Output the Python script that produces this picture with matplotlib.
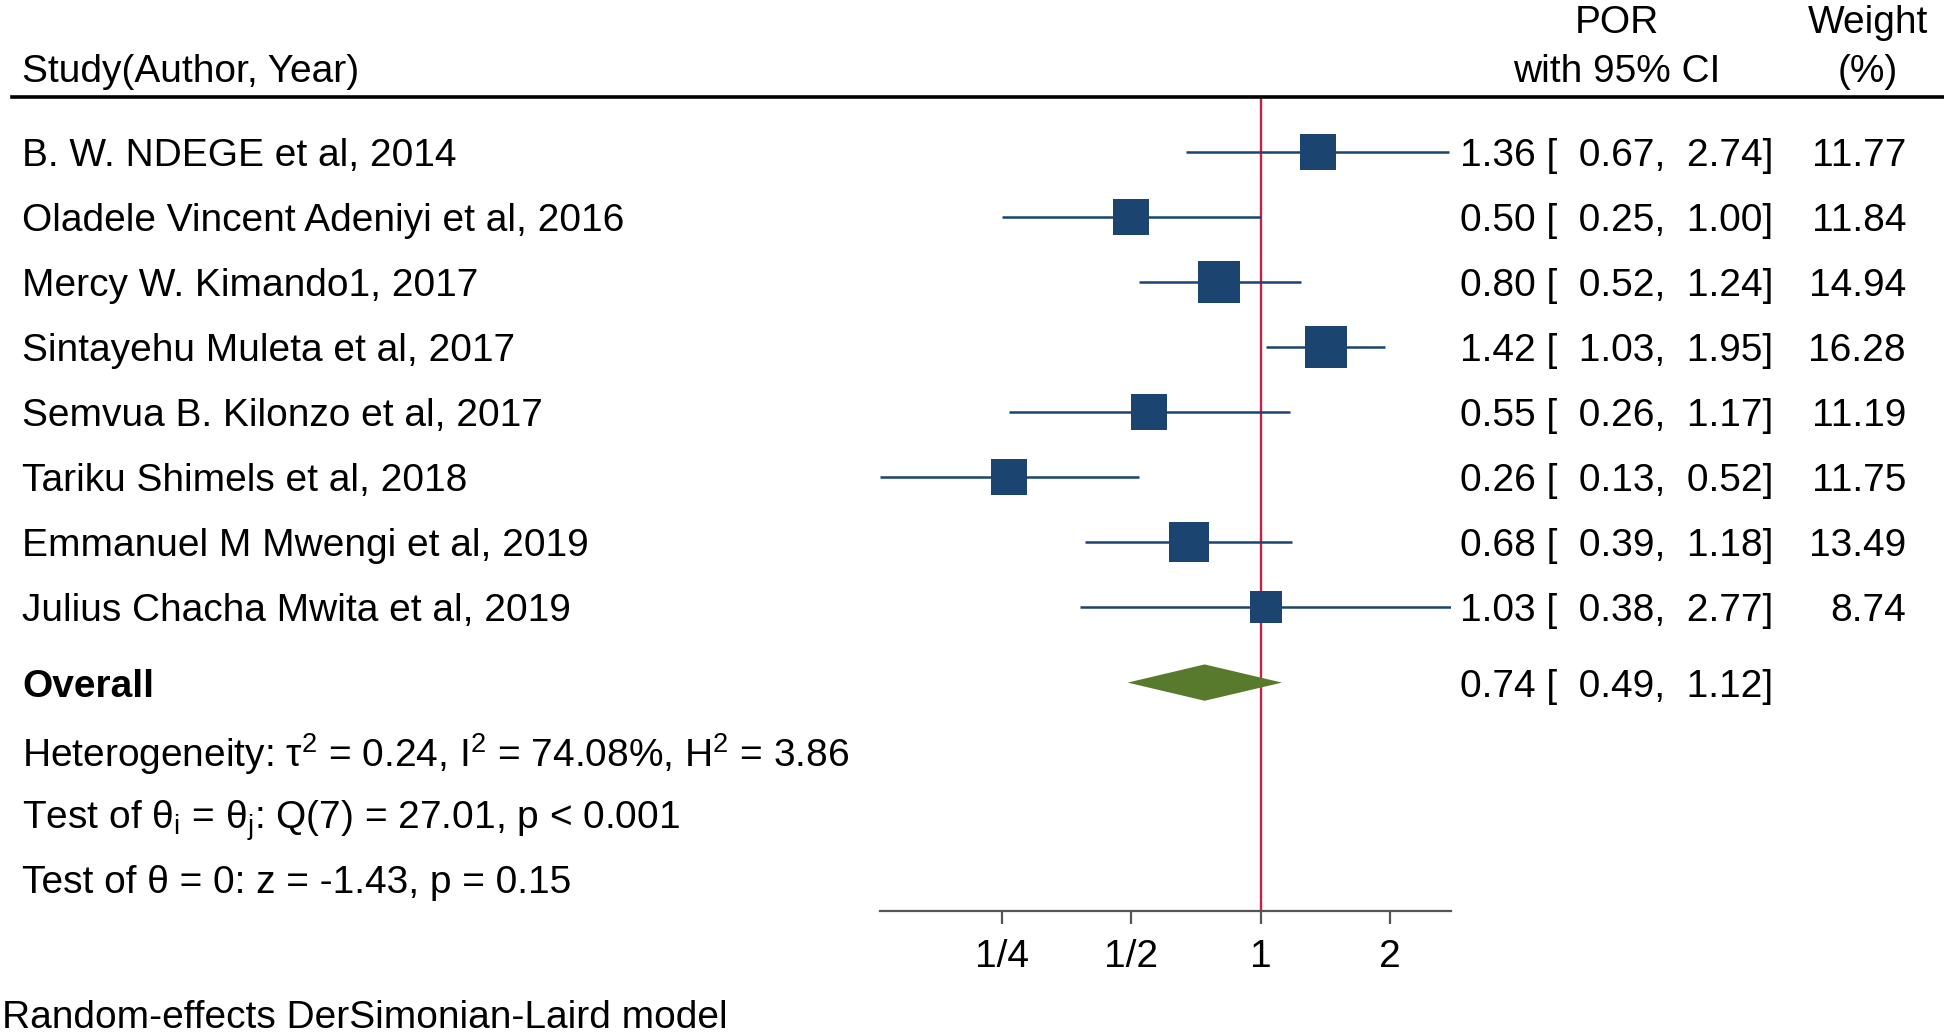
import matplotlib
matplotlib.use("Agg")
import matplotlib.pyplot as plt
import matplotlib.transforms as mtransforms
import numpy as np

plt.rcParams['font.family'] = ['Liberation Sans', 'DejaVu Sans']
plt.rcParams['mathtext.fontset'] = 'custom'
plt.rcParams['mathtext.rm'] = 'Liberation Sans'
plt.rcParams['mathtext.it'] = 'Liberation Sans:italic'

studies = ["B. W. NDEGE et al, 2014",
           "Oladele Vincent Adeniyi et al, 2016",
           "Mercy W. Kimando1, 2017",
           "Sintayehu Muleta et al, 2017",
           "Semvua B. Kilonzo et al, 2017",
           "Tariku Shimels et al, 2018",
           "Emmanuel M Mwengi et al, 2019",
           "Julius Chacha Mwita et al, 2019"]
por = [1.36, 0.50, 0.80, 1.42, 0.55, 0.26, 0.68, 1.03]
ci_low = [0.67, 0.25, 0.52, 1.03, 0.26, 0.13, 0.39, 0.38]
ci_high = [2.74, 1.00, 1.24, 1.95, 1.17, 0.52, 1.18, 2.77]
weights = [11.77, 11.84, 14.94, 16.28, 11.19, 11.75, 13.49, 8.74]
overall = [0.74, 0.49, 1.12]
tick_vals = [0.25, 0.5, 1, 2]
tick_labels = ["1/4", "1/2", "1", "2"]

W, H = 1944, 1033
fig = plt.figure(figsize=(W / 100, H / 100), dpi=100)

ax_left, ax_right = 880 / W, 1451 / W
ax_top, ax_bot = 1 - 97 / H, 1 - 911 / H
ax = fig.add_axes([ax_left, ax_bot, ax_right - ax_left, ax_top - ax_bot])
ax.set_xscale('log', base=2)
ax.set_xlim(min(ci_low), max(ci_high))
ax.set_ylim(12.69, 0.145)
ax.patch.set_visible(False)
for s in ['top', 'left', 'right']:
    ax.spines[s].set_visible(False)
ax.spines['bottom'].set_color('#555555')
ax.spines['bottom'].set_linewidth(1.6)
ax.set_yticks([])
ax.set_xticks(tick_vals)
ax.set_xticklabels(tick_labels)
ax.xaxis.set_minor_locator(matplotlib.ticker.NullLocator())
ax.tick_params(axis='x', length=9, width=1.6, color='#555555', labelsize=28, pad=11)

FS = 28
blue = '#1b4570'
green = '#587a2c'
red = '#cc1f45'
VA = 'center_baseline'

ax.axvline(1, color=red, lw=1.7, zorder=1)

rows = np.arange(1, len(studies) + 1)
for y, e, lo, hi, w in zip(rows, por, ci_low, ci_high, weights):
    ax.plot([lo, hi], [y, y], color=blue, lw=1.8, zorder=2, solid_capstyle='butt')
    ax.plot([e], [y], marker='s', color=blue, markersize=7.67 * np.sqrt(w),
            markeredgewidth=0, zorder=3)

y_ov = 9.17
e, lo, hi = overall
ax.fill([lo, e, hi, e], [y_ov, y_ov - 0.28, y_ov, y_ov + 0.28], color=green,
        lw=0, zorder=3)

trans = mtransforms.blended_transform_factory(fig.transFigure, ax.transData)
x_study = 22 / W
x_est = 1460 / W
x_wt = 1906 / W

for y, name, e, lo, hi, w in zip(rows, studies, por, ci_low, ci_high, weights):
    ax.text(x_study, y, name, transform=trans, fontsize=FS, va=VA, ha='left')
    ax.text(x_est, y, f"{e:.2f} [  {lo:.2f},  {hi:.2f}]", transform=trans,
            fontsize=FS, va=VA, ha='left')
    ax.text(x_wt, y, f"{w:.2f}", transform=trans, fontsize=FS, va=VA, ha='right')

ax.text(x_study, y_ov, "Overall", transform=trans, fontsize=FS, va=VA,
        ha='left', fontweight='bold')
ax.text(x_est, y_ov, f"{overall[0]:.2f} [  {overall[1]:.2f},  {overall[2]:.2f}]",
        transform=trans, fontsize=FS, va=VA, ha='left')

ax.text(x_study, 10.19,
        r"Heterogeneity: τ$^{\mathrm{2}}$ = 0.24, I$^{\mathrm{2}}$ = 74.08%, H$^{\mathrm{2}}$ = 3.86",
        transform=trans, fontsize=FS, va=VA, ha='left')
ax.text(x_study, 11.19,
        r"Test of θ$_{\mathrm{i}}$ = θ$_{\mathrm{j}}$: Q(7) = 27.01, p < 0.001",
        transform=trans, fontsize=FS, va=VA, ha='left')
ax.text(x_study, 12.19, "Test of θ = 0: z = -1.43, p = 0.15",
        transform=trans, fontsize=FS, va=VA, ha='left')

# header
fig.text(x_study, 1 - 68 / H, "Study(Author, Year)", fontsize=FS, va=VA, ha='left')
fig.text(1617 / W, 1 - 19 / H, "POR", fontsize=FS, va=VA, ha='center')
fig.text(1617 / W, 1 - 68 / H, "with 95% CI", fontsize=FS, va=VA, ha='center')
fig.text(1868 / W, 1 - 19 / H, "Weight", fontsize=FS, va=VA, ha='center')
fig.text(1868 / W, 1 - 68 / H, "(%)", fontsize=FS, va=VA, ha='center')
fig.add_artist(plt.Line2D([12 / W, 1], [1 - 97 / H, 1 - 97 / H], color='black',
                          lw=2.6, transform=fig.transFigure))

fig.text(2 / W, 1 - 1014 / H, "Random-effects DerSimonian-Laird model",
         fontsize=FS, va=VA, ha='left')

fig.savefig("out.png", dpi=100)
